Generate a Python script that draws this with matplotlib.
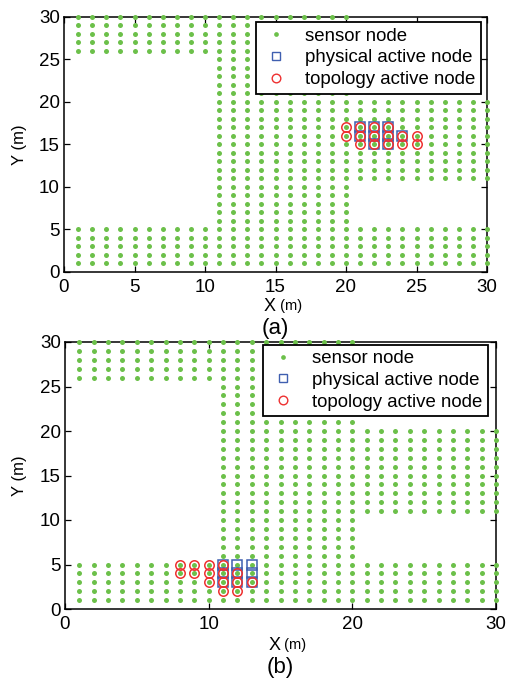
import numpy as np
import matplotlib
matplotlib.use("Agg")
import matplotlib.pyplot as plt
from matplotlib.lines import Line2D

plt.rcParams["font.family"] = ["Liberation Sans", "DejaVu Sans"]

# Deployment area as rectangular blocks of sensor nodes on a 1 m lattice
block_x_from = [1, 11, 1, 21]
block_x_to = [30, 20, 10, 30]
block_y_from = [1, 6, 26, 11]
block_y_to = [5, 30, 30, 20]

# Panel (a): active nodes around the right-hand region
phys_a_x = [21, 21, 22, 22, 22, 23, 23, 23, 24]
phys_a_y = [17, 16, 17, 16, 15, 17, 16, 15, 16]
topo_a_x = [20, 20, 21, 21, 21, 22, 22, 22, 23, 23, 23, 24, 24, 25, 25]
topo_a_y = [17, 16, 17, 16, 15, 17, 16, 15, 17, 16, 15, 16, 15, 16, 15]

# Panel (b): active nodes in the lower strip
phys_b_x = [11, 11, 11, 12, 12, 12, 13, 13, 13]
phys_b_y = [5, 4, 3, 5, 4, 3, 5, 4, 3]
topo_b_x = [8, 8, 9, 9, 10, 10, 10, 11, 11, 11, 11, 12, 12, 12, 13]
topo_b_y = [5, 4, 5, 4, 5, 4, 3, 5, 4, 3, 2, 4, 3, 2, 3]

legend_labels = ["sensor node", "physical active node", "topology active node"]

GREEN = "#6cc04a"
BLUE = "#3f5fb0"
RED = "#ee3030"


def sensor_nodes():
    xs, ys = [], []
    for x0, x1, y0, y1 in zip(block_x_from, block_x_to, block_y_from, block_y_to):
        gx, gy = np.meshgrid(np.arange(x0, x1 + 1), np.arange(y0, y1 + 1))
        xs.append(gx.ravel())
        ys.append(gy.ravel())
    return np.concatenate(xs), np.concatenate(ys)


W, H = 509, 681
fig = plt.figure(figsize=(W / 100, H / 100), dpi=100)


def px_axes(left, top, right, bottom):
    return fig.add_axes([left / W, 1 - bottom / H, (right - left) / W, (bottom - top) / H])


def draw_panel(ax, px, py, tx, ty, xticks, leg_anchor, tag, xlab_y, tag_y):
    sx, sy = sensor_nodes()
    ax.plot(sx, sy, "o", ls="none", ms=3.6, mfc=GREEN, mec="none", clip_on=False, zorder=3)
    ax.plot(px, py, "s", ls="none", ms=6.6, mfc="none", mec=BLUE, mew=1.1, clip_on=False, zorder=4)
    ax.plot(tx, ty, "o", ls="none", ms=6.8, mfc="none", mec=RED, mew=1.1, clip_on=False, zorder=5)
    ax.set_xlim(0, 30)
    ax.set_ylim(0, 30)
    ax.set_xticks(xticks)
    ax.set_yticks(range(0, 31, 5))
    ax.tick_params(direction="in", top=True, right=True, length=4, width=0.9,
                   labelsize=13.5)
    ax.tick_params(axis="x", pad=5)
    ax.tick_params(axis="y", pad=3)
    for s in ax.spines.values():
        s.set_linewidth(1.1)
    handles = [
        Line2D([], [], ls="none", marker="o", ms=3.4, mfc=GREEN, mec="none"),
        Line2D([], [], ls="none", marker="s", ms=6.0, mfc="none", mec=BLUE, mew=1.0),
        Line2D([], [], ls="none", marker="o", ms=6.2, mfc="none", mec=RED, mew=1.0),
    ]
    leg = ax.legend(handles, legend_labels, loc="upper right", bbox_to_anchor=leg_anchor,
                    borderaxespad=0, fontsize=13.4, frameon=True, fancybox=False,
                    edgecolor="black", framealpha=1, labelspacing=0.25,
                    handlelength=1.6, handletextpad=0.75, borderpad=0.3)
    leg.get_frame().set_linewidth(1.3)
    leg.set_zorder(10)
    # axis titles: large letter followed by a smaller unit
    ax.text(0.5, xlab_y, "X", transform=ax.transAxes, ha="right", va="center", fontsize=13)
    ax.text(0.5, xlab_y, " (m)", transform=ax.transAxes, ha="left", va="center", fontsize=10.5)
    ax.text(-0.105, 0.5, "Y (m)", transform=ax.transAxes, rotation=90, ha="center",
            va="center", fontsize=12)
    ax.text(0.5, tag_y, tag, transform=ax.transAxes, ha="center", va="center", fontsize=16)


ax_a = px_axes(64, 16.7, 487, 271.7)
draw_panel(ax_a, phys_a_x, phys_a_y, topo_a_x, topo_a_y, range(0, 31, 5),
           (0.986, 0.979), "(a)", (271.7 - 306) / 255, (271.7 - 328) / 255)

ax_b = px_axes(65, 342, 496, 609)
draw_panel(ax_b, phys_b_x, phys_b_y, topo_b_x, topo_b_y, [0, 10, 20, 30],
           (0.981, 0.99), "(b)", (609 - 645) / 267, (609 - 668) / 267)

fig.savefig("out.png", dpi=100)
